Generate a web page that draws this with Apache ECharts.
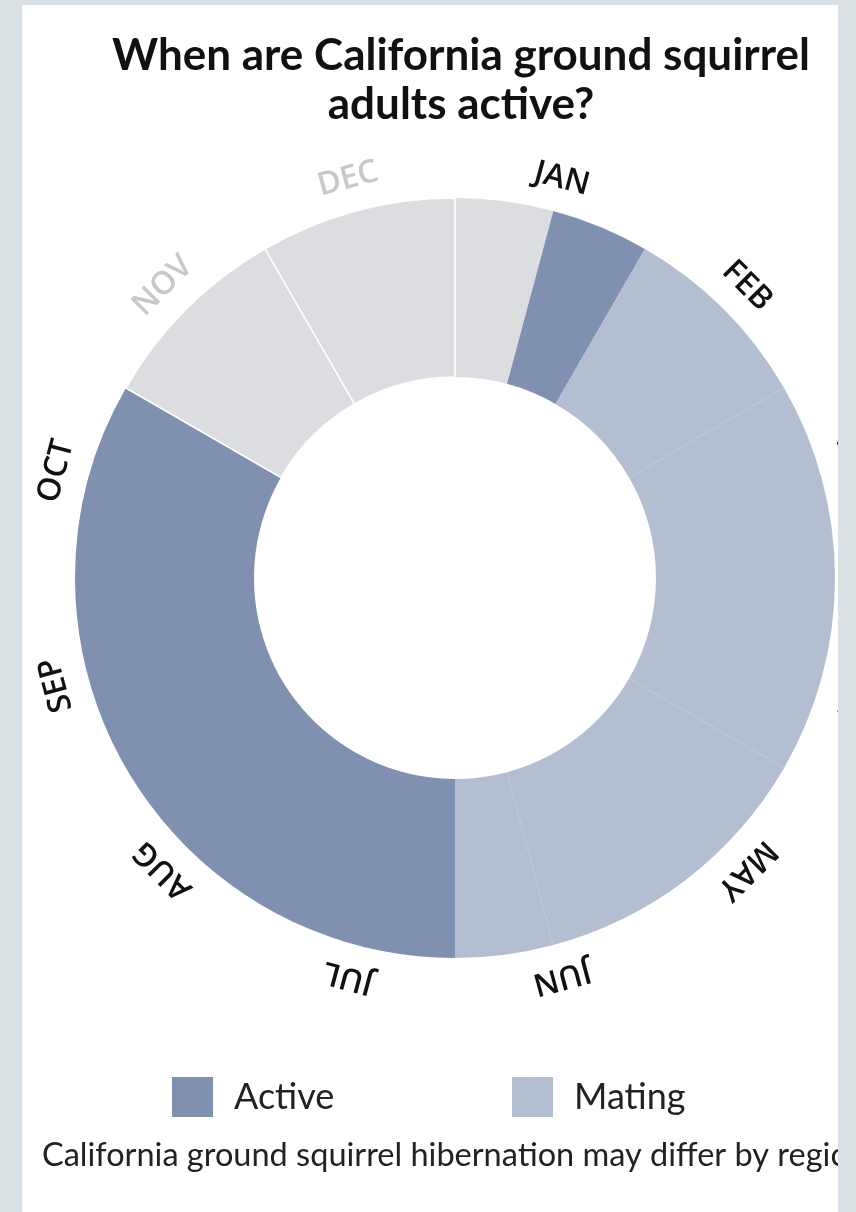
<!DOCTYPE html>
<html>
<head>
<meta charset="utf-8">
<script src="https://cdn.jsdelivr.net/npm/echarts@6/dist/echarts.min.js"></script>
<style>
    html, body { margin: 0; padding: 0; background: #d9e1e4; }
    #card { position: absolute; left: 22px; top: 5px; width: 816px; height: 1207px; background: #fff; overflow: hidden; }
    #chart { width: 816px; height: 1207px; }
</style>
</head>
<body>
<div id="card"><div id="chart"></div></div>
<script>
// ring segments, clockwise from the top, length in half-months
const segmentStatus = ["Hibernating", "Active", "Mating", "Mating", "Mating", "Mating", "Active", "Hibernating", "Hibernating"];
const segmentHalfMonths = [1, 1, 2, 4, 3, 1, 8, 2, 2];
const months = ["JAN", "FEB", "MAR", "APR", "MAY", "JUN", "JUL", "AUG", "SEP", "OCT", "NOV", "DEC"];
const dimMonths = ["NOV", "DEC"];
const legendNames = ["Active", "Mating"];

const colors = {
    Active: "#8090b0",
    Mating: "#b3bed1",
    Hibernating: "#dcdde0"
};

function drawSquirrelRing (domId) {
    const chart = echarts.init(document.getElementById(domId));
    const center = [433, 573];

    const ringData = segmentStatus.map((status, i) => {
        // white separators only around the last two hibernation months
        const separated = i >= segmentStatus.length - 2;
        return {
            name: status,
            value: segmentHalfMonths[i],
            itemStyle: {
                color: colors[status],
                borderColor: "#fff",
                borderWidth: separated ? 1.5 : 0
            }
        };
    });

    const monthData = months.map((m, i) => ({
        name: m,
        value: 1,
        label: {
            rotate: -(i * 30 + 15),
            color: dimMonths.includes(m) ? "#c8c8c8" : "#111"
        }
    }));

    const option = {
        animation: false,
        title: [
            {
                text: "When are California ground squirrel\nadults active?",
                left: 434,
                top: 21,
                textAlign: "center",
                textStyle: {
                    fontFamily: "Lato",
                    fontWeight: "bold",
                    fontSize: 44,
                    lineHeight: 49,
                    color: "#111"
                }
            },
            {
                text: "California ground squirrel hibernation may differ by region.",
                left: 15,
                top: 1129,
                textStyle: {
                    fontFamily: "Lato",
                    fontWeight: "normal",
                    fontSize: 32.5,
                    color: "#222"
                }
            }
        ],
        legend: legendNames.map((name, i) => ({
            data: [{ name: name, itemStyle: { color: colors[name] } }],
            left: i === 0 ? 145 : 485,
            top: 1067,
            icon: "rect",
            itemWidth: 41,
            itemHeight: 40,
            selectedMode: false,
            textStyle: {
                fontFamily: "Lato",
                fontSize: 36,
                color: "#222",
                padding: [0, 0, 0, 16]
            }
        })),
        series: [
            {
                type: "pie",
                center: center,
                radius: [201, 380],
                startAngle: 90,
                clockwise: true,
                silent: true,
                label: { show: false },
                labelLine: { show: false },
                data: ringData
            },
            {
                type: "pie",
                center: center,
                radius: [380, 440],
                startAngle: 90,
                clockwise: true,
                silent: true,
                itemStyle: { color: "transparent" },
                label: {
                    show: true,
                    position: "inside",
                    fontFamily: "Open Sans",
                    fontWeight: 600,
                    fontSize: 32
                },
                labelLine: { show: false },
                data: monthData
            }
        ]
    };
    chart.setOption(option);
    return chart;
}

drawSquirrelRing("chart");
</script>
</body>
</html>
